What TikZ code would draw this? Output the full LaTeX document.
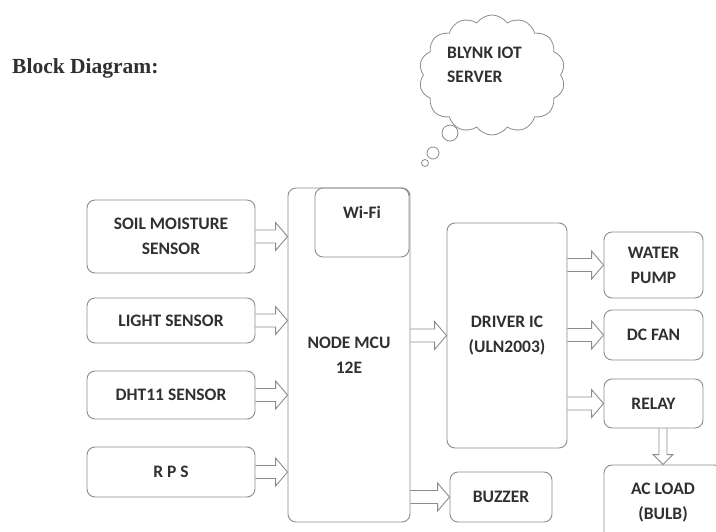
\documentclass[tikz,border=0pt]{standalone}
\usepackage{fontspec}
\setmainfont{Carlito}
\newfontfamily\titlefont{Liberation Serif}
\usetikzlibrary{calc,shapes.symbols}
\definecolor{ln}{HTML}{8C8C8C}
\definecolor{tx}{HTML}{303030}
\tikzset{
  blk/.style={draw=ln, line width=0.9pt, rounded corners=8pt, align=center, text=tx,
     font=\bfseries\fontsize{17.5}{25}\selectfont, inner sep=0pt},
  txt/.style={text=tx, font=\bfseries\fontsize{17.5}{24}\selectfont, inner sep=0pt, align=left},
  arr/.style={draw=ln, line width=0.9pt, line join=miter},
  bub/.style={circle, draw=ln, line width=0.8pt, inner sep=0pt}
}
\newcommand\harr[2]{\draw[arr] let \p1=(#1), \p2=(#2) in
  (\x1,\y1-6.5pt) -- (\x2-12pt,\y1-6.5pt) -- (\x2-12pt,\y1-14pt) -- (\x2,\y1)
  -- (\x2-12pt,\y1+14pt) -- (\x2-12pt,\y1+6.5pt) -- (\x1,\y1+6.5pt);}
\newcommand\varr[2]{\draw[arr] let \p1=(#1), \p2=(#2) in
  (\x1-4pt,\y1) -- (\x1-4pt,\y2+10pt) -- (\x1-10pt,\y2+10pt) -- (\x1,\y2)
  -- (\x1+10pt,\y2+10pt) -- (\x1+4pt,\y2+10pt) -- (\x1+4pt,\y1);}
\begin{document}
\begin{tikzpicture}[x=1pt,y=-1pt]
\clip (0,0) rectangle (716,531);
\fill[white] (0,0) rectangle (716,531);
% title
\node[anchor=base west, inner sep=0pt, text=tx, font=\titlefont\bfseries\fontsize{21.5}{24}\selectfont] (title) at (12,73) {Block Diagram:};
% cloud
\node[cloud, cloud puffs=14, cloud puff arc=110, aspect=1.2, draw=ln, line width=0.8pt,
  minimum width=146, minimum height=120, inner sep=0pt] (cloud) at (492,75) {};
\node[txt, anchor=north west] (cloudtxt) at (447,47) {BLYNK IOT\\SERVER};
\node[bub, minimum size=16] (b1) at (450,133) {};
\node[bub, minimum size=12] (b2) at (433,153) {};
\node[bub, minimum size=7] (b3) at (425,163) {};
% left sensors
\node[blk, minimum width=168, minimum height=73] (soil) at (171,236.5) {SOIL MOISTURE\\SENSOR};
\node[blk, minimum width=168, minimum height=45] (light) at (171,320.5) {LIGHT SENSOR};
\node[blk, minimum width=168, minimum height=48] (dht) at (171,395) {DHT11 SENSOR};
\node[blk, minimum width=168, minimum height=50] (rps) at (171,472) {R P S};
% mcu
\node[blk, minimum width=122, minimum height=334] (mcu) at (349,355) {NODE MCU\\12E};
\node[blk, minimum width=94, minimum height=69] (wifi) at (362,222.5) {};
\node[txt] (wifitxt) at (362,212) {Wi-Fi};
% driver and outputs
\node[blk, minimum width=120, minimum height=225] (drv) at (507,335.5) {DRIVER IC\\(ULN2003)};
\node[blk, minimum width=99, minimum height=66] (pump) at (653.5,265) {WATER\\PUMP};
\node[blk, minimum width=99, minimum height=50] (fan) at (653.5,335) {DC FAN};
\node[blk, minimum width=99, minimum height=49] (relay) at (653.5,403.5) {RELAY};
\node[blk, minimum width=102, minimum height=50] (buzz) at (501,497) {BUZZER};
\node[blk, minimum width=118, minimum height=75] (ac) at (663,502.5) {AC LOAD\\(BULB)};
% arrows
\harr{soil.east}{soil.east -| mcu.west}
\harr{light.east}{light.east -| mcu.west}
\harr{dht.east}{dht.east -| mcu.west}
\harr{rps.east}{rps.east -| mcu.west}
\harr{mcu.east |- drv.west}{drv.west}
\harr{drv.east |- pump.west}{pump.west}
\harr{drv.east |- fan.west}{fan.west}
\harr{drv.east |- relay.west}{relay.west}
\harr{mcu.east |- buzz.west}{buzz.west}
\varr{relay.south -| ac.north}{ac.north}
\end{tikzpicture}
\end{document}
